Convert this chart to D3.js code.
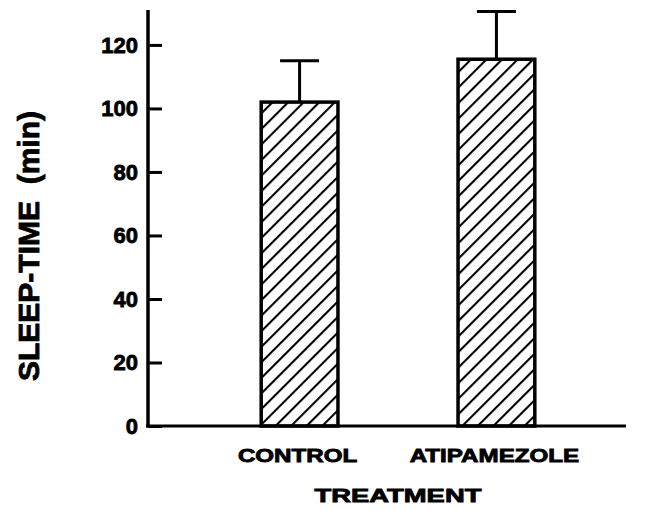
<!DOCTYPE html>
<html>
<head>
<meta charset="utf-8">
<script src="https://cdn.jsdelivr.net/npm/d3@7"></script>
<style>
  body { margin: 0; background: #fff; }
  text { font-family: "Liberation Sans", Arial, sans-serif; font-weight: bold; fill: #000; stroke: #000; stroke-width: 0.8px; }
</style>
</head>
<body>
<div class="canvas"></div>
<script>
// data
const treatments = ['CONTROL', 'ATIPAMEZOLE'];
const sleepTime = [102, 115.5];   // mean, min
const sleepErr = [13, 15];        // upper error bar
const yTicks = [0, 20, 40, 60, 80, 100, 120];

const svg = d3.select('.canvas')
    .append('svg')
    .attr('width', 648)
    .attr('height', 510);

// hatch pattern "/"
const hatchGap = 11;
const defs = svg.append('defs');
const pat = defs.append('pattern')
    .attr('id', 'hatch')
    .attr('patternUnits', 'userSpaceOnUse')
    .attr('width', hatchGap)
    .attr('height', hatchGap)
    .attr('patternTransform', 'rotate(45)');
pat.append('line')
    .attr('x1', 1).attr('y1', 0)
    .attr('x2', 1).attr('y2', hatchGap)
    .attr('stroke', '#000')
    .attr('stroke-width', 2.2);

const x = d3.scaleBand()
    .domain(treatments)
    .range([148, 648])
    .paddingInner(0.61)
    .paddingOuter(0.575);

const y = d3.scaleLinear()
    .domain([0, 131])
    .range([426, 10]);

const data = treatments.map((t, i) => ({name: t, val: sleepTime[i], err: sleepErr[i]}));

// bars
svg.selectAll('rect.bar')
    .data(data)
    .enter()
    .append('rect')
    .attr('class', 'bar')
    .attr('x', d => x(d.name))
    .attr('y', d => y(d.val))
    .attr('width', x.bandwidth())
    .attr('height', d => y(0) - y(d.val))
    .attr('fill', 'url(#hatch)')
    .attr('stroke', '#000')
    .attr('stroke-width', 3.5);

// error bars (upper only)
const capW = 39;
svg.selectAll('line.stem')
    .data(data)
    .enter()
    .append('line')
    .attr('x1', d => x(d.name) + x.bandwidth() / 2)
    .attr('x2', d => x(d.name) + x.bandwidth() / 2)
    .attr('y1', d => y(d.val))
    .attr('y2', d => y(d.val + d.err))
    .attr('stroke', '#000')
    .attr('stroke-width', 3);
svg.selectAll('line.cap')
    .data(data)
    .enter()
    .append('line')
    .attr('x1', d => x(d.name) + x.bandwidth() / 2 - capW / 2)
    .attr('x2', d => x(d.name) + x.bandwidth() / 2 + capW / 2)
    .attr('y1', d => y(d.val + d.err))
    .attr('y2', d => y(d.val + d.err))
    .attr('stroke', '#000')
    .attr('stroke-width', 3);

// y axis - ticks point inward
const yAxis = d3.axisRight(y)
    .tickValues(yTicks)
    .tickSize(14)
    .tickFormat('');
const yAxisGroup = svg.append('g')
    .attr('transform', 'translate(148,0)')
    .call(yAxis);
yAxisGroup.select('.domain').remove();
yAxisGroup.selectAll('.tick line').attr('stroke', '#000').attr('stroke-width', 3);
svg.append('line')
    .attr('x1', 148).attr('x2', 148)
    .attr('y1', y(131)).attr('y2', y(0) + 1.5)
    .attr('stroke', '#000').attr('stroke-width', 3.5);

// tick labels
svg.selectAll('text.ytick')
    .data(yTicks)
    .enter()
    .append('text')
    .attr('x', 138)
    .attr('y', d => y(d))
    .attr('dy', '0.36em')
    .attr('text-anchor', 'end')
    .style('font-size', '22px')
    .text(d => d);

// x axis line
svg.append('line')
    .attr('x1', 146).attr('x2', 626)
    .attr('y1', y(0)).attr('y2', y(0))
    .attr('stroke', '#000').attr('stroke-width', 3);

// category labels, stretched wide like the original type
svg.selectAll('text.cat')
    .data(treatments)
    .enter()
    .append('text')
    .attr('transform', d => `translate(${x(d) + x.bandwidth() / 2 - 2},462) scale(1.38,1)`)
    .attr('text-anchor', 'middle')
    .style('font-size', '17.5px')
    .text(d => d);

svg.append('text')
    .attr('transform', 'translate(398,502) scale(1.48,1)')
    .attr('text-anchor', 'middle')
    .style('font-size', '18.5px')
    .text('TREATMENT');

svg.append('text')
    .attr('transform', 'translate(39,246) rotate(-90)')
    .attr('text-anchor', 'middle')
    .style('font-size', '30px')
    .style('white-space', 'pre')
    .text('SLEEP-TIME  (min)');
</script>
</body>
</html>
